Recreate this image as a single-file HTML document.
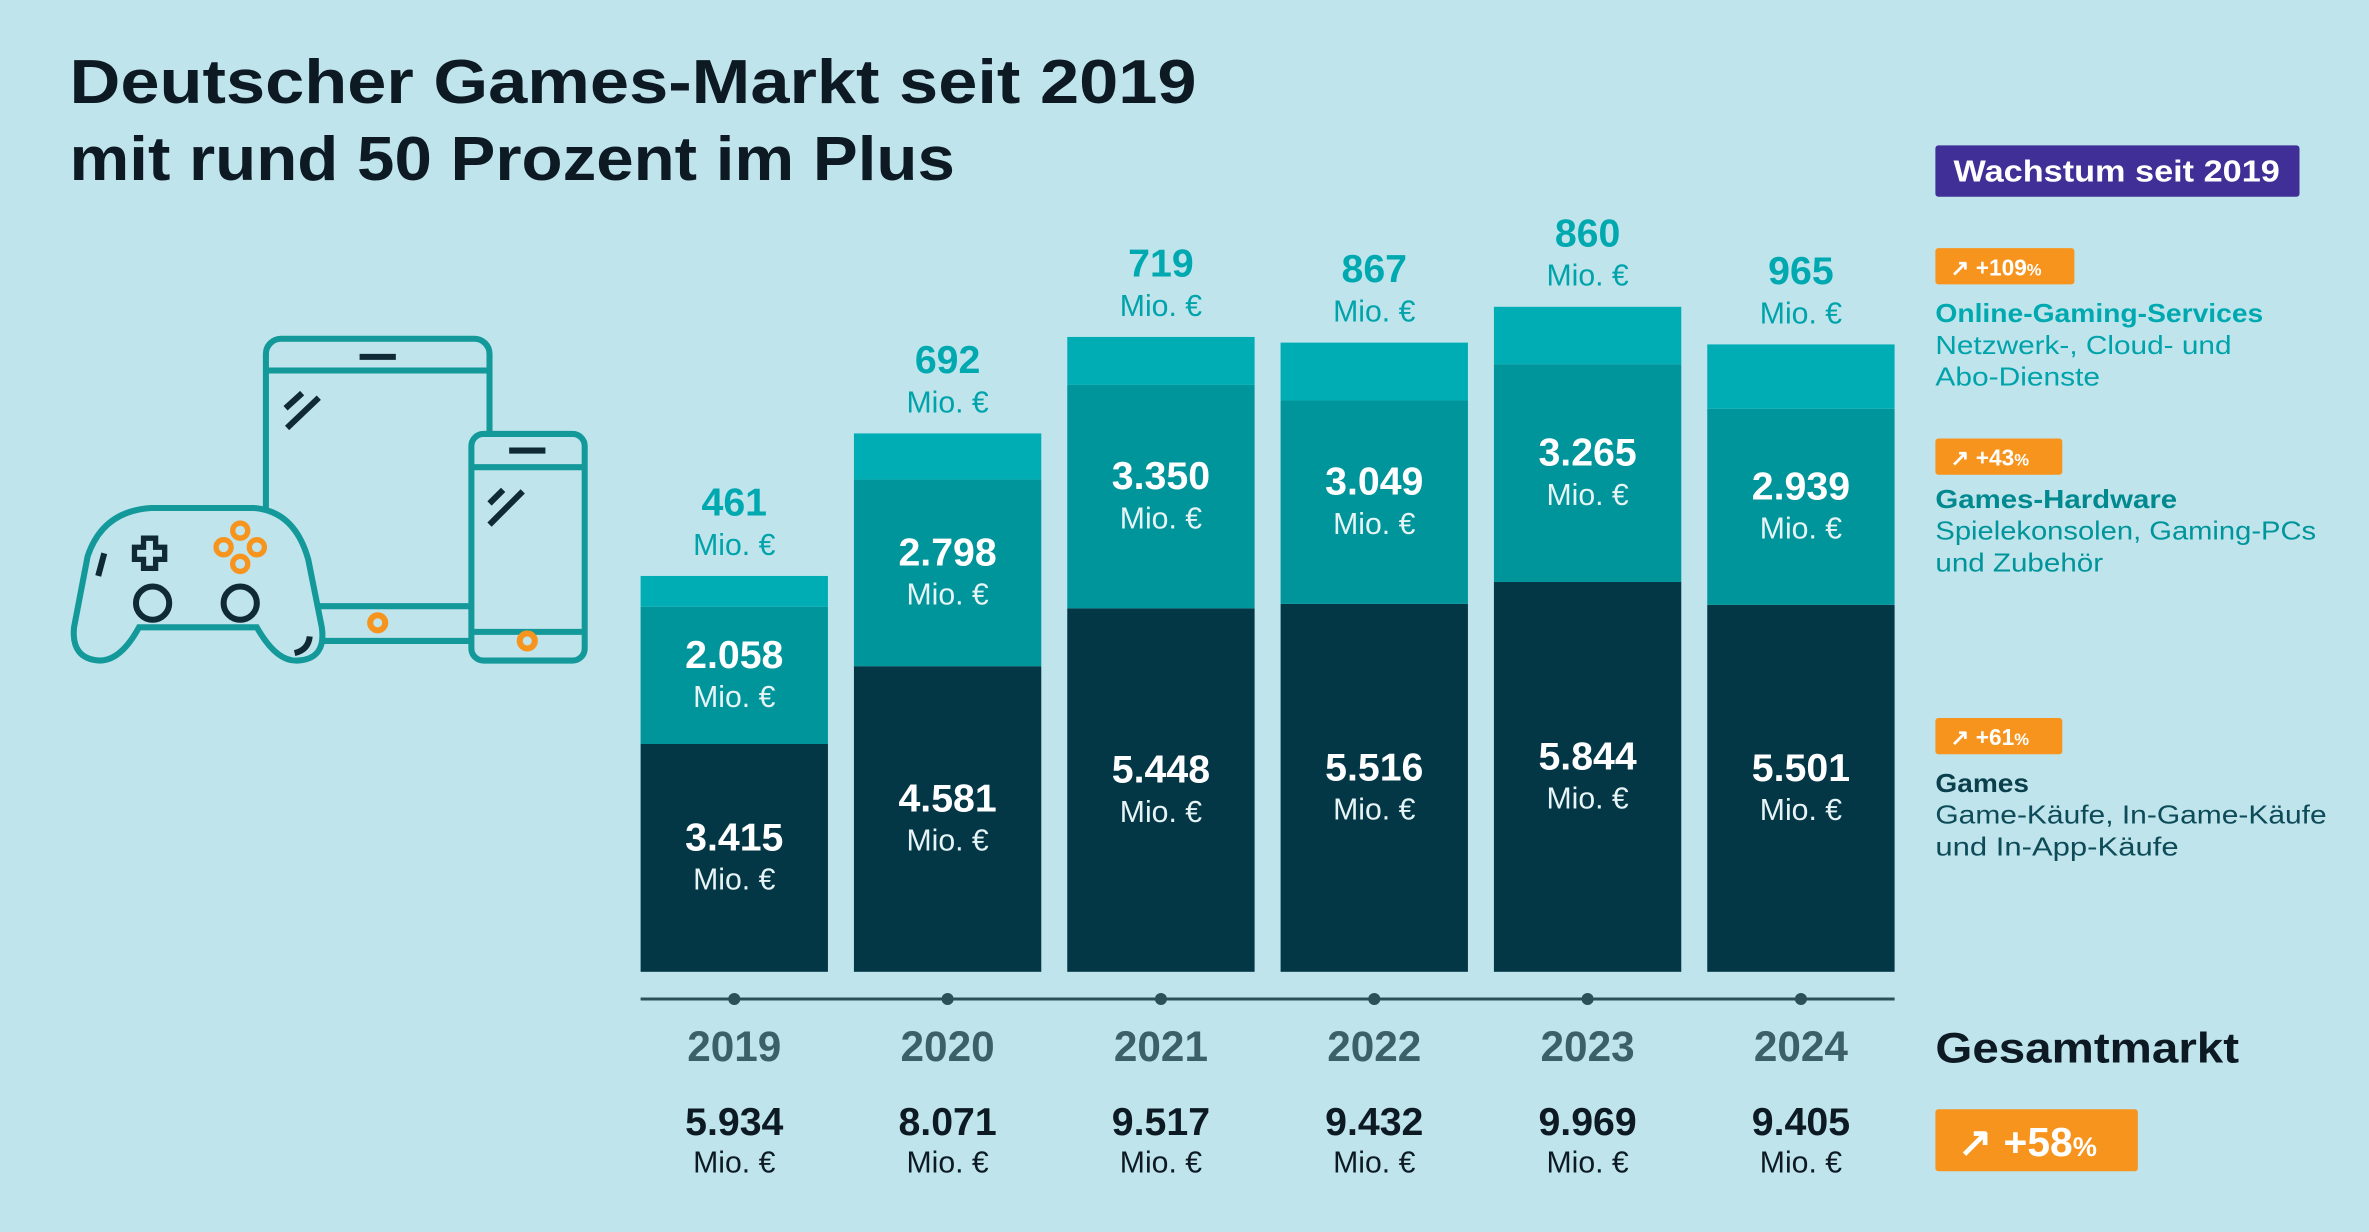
<!DOCTYPE html>
<html><head><meta charset="utf-8">
<style>
html,body{margin:0;padding:0;background:#bfe4ec;}
svg{display:block;font-family:"Liberation Sans",sans-serif;}
</style></head>
<body>
<svg id="chart" width="2369" height="1232" viewBox="0 0 1568 815" xmlns="http://www.w3.org/2000/svg">
<rect x="0" y="0" width="1568" height="815" fill="#bfe4ec"/>
<g fill="#0d1a24" font-weight="bold" font-size="41">
<text x="46" y="68" textLength="746" lengthAdjust="spacingAndGlyphs">Deutscher Games-Markt seit 2019</text>
<text x="46" y="119" textLength="586" lengthAdjust="spacingAndGlyphs">mit rund 50 Prozent im Plus</text>
</g>
<g fill="none" stroke="#13999a" stroke-width="4">
<rect x="176" y="224" width="148" height="200" rx="10"/>
<line x1="176" y1="245" x2="324" y2="245"/>
<line x1="176" y1="401" x2="324" y2="401"/>
<line x1="238" y1="236" x2="262" y2="236" stroke="#0f2a35"/>
<line x1="189" y1="270" x2="200" y2="260" stroke="#0f2a35"/>
<line x1="190" y1="283" x2="211" y2="263" stroke="#0f2a35"/>
<circle cx="250" cy="412" r="5" stroke="#f7941d"/>
<rect x="312" y="287" width="75" height="150" rx="8" fill="#bfe4ec"/>
<line x1="312" y1="309" x2="387" y2="309"/>
<line x1="312" y1="418" x2="387" y2="418"/>
<line x1="337" y1="298" x2="361" y2="298" stroke="#0f2a35"/>
<line x1="324" y1="333" x2="333" y2="324" stroke="#0f2a35"/>
<line x1="324" y1="347" x2="346" y2="325" stroke="#0f2a35"/>
<circle cx="349" cy="424" r="5" stroke="#f7941d"/>
<path d="M 100 336 L 168 336 Q 195 338 204 370 L 213 415 Q 216 436 197 437 Q 183 438 170 415 L 92 415 Q 80 437 66 437 Q 47 436 49 415 L 58 368 Q 68 338 100 336 Z" fill="#bfe4ec"/>
<path d="M 95 356 h8 v6 h6 v8 h-6 v6 h-8 v-6 h-6 v-8 h6 Z" stroke="#0f2a35" stroke-width="3.5"/>
<circle cx="101" cy="399" r="11" stroke="#0f2a35"/>
<circle cx="159" cy="399" r="11" stroke="#0f2a35"/>
<line x1="65" y1="381" x2="69" y2="366" stroke="#0f2a35"/>
<path d="M 195 432 Q 204 430 205 421" stroke="#0f2a35"/>
<g stroke="#f7941d" stroke-width="3.5">
<circle cx="159" cy="351" r="5"/><circle cx="159" cy="373" r="5"/><circle cx="148" cy="362" r="5"/><circle cx="170" cy="362" r="5"/>
</g>
</g>
<g id="bars"></g>
<line x1="424" y1="661" x2="1254" y2="661" stroke="#2c4f58" stroke-width="2"/>
<g id="axis"></g>
<g>
<rect x="1281" y="96" width="241" height="34" rx="2" fill="#3f2f96"/>
<text x="1293" y="120" fill="#fff" font-weight="bold" font-size="20" textLength="216" lengthAdjust="spacingAndGlyphs">Wachstum seit 2019</text>
<rect x="1281" y="164" width="92" height="24" rx="2" fill="#f7941d"/>
<text x="1291" y="182" fill="#fff" font-weight="bold" font-size="15">↗ +109<tspan font-size="11">%</tspan></text>
<text x="1281" y="213" fill="#00a9b0" font-weight="bold" font-size="17" textLength="217" lengthAdjust="spacingAndGlyphs">Online-Gaming-Services</text>
<text x="1281" y="234" fill="#00a3aa" font-size="17" textLength="196" lengthAdjust="spacingAndGlyphs">Netzwerk-, Cloud- und</text>
<text x="1281" y="255" fill="#00a3aa" font-size="17" textLength="109" lengthAdjust="spacingAndGlyphs">Abo-Dienste</text>
<rect x="1281" y="290" width="84" height="24" rx="2" fill="#f7941d"/>
<text x="1291" y="308" fill="#fff" font-weight="bold" font-size="15">↗ +43<tspan font-size="11">%</tspan></text>
<text x="1281" y="336" fill="#00898f" font-weight="bold" font-size="17" textLength="160" lengthAdjust="spacingAndGlyphs">Games-Hardware</text>
<text x="1281" y="357" fill="#00959a" font-size="17" textLength="252" lengthAdjust="spacingAndGlyphs">Spielekonsolen, Gaming-PCs</text>
<text x="1281" y="378" fill="#00959a" font-size="17" textLength="111" lengthAdjust="spacingAndGlyphs">und Zubehör</text>
<rect x="1281" y="475" width="84" height="24" rx="2" fill="#f7941d"/>
<text x="1291" y="493" fill="#fff" font-weight="bold" font-size="15">↗ +61<tspan font-size="11">%</tspan></text>
<text x="1281" y="524" fill="#0a3f4c" font-weight="bold" font-size="17" textLength="62" lengthAdjust="spacingAndGlyphs">Games</text>
<text x="1281" y="545" fill="#0d4b58" font-size="17" textLength="259" lengthAdjust="spacingAndGlyphs">Game-Käufe, In-Game-Käufe</text>
<text x="1281" y="566" fill="#0d4b58" font-size="17" textLength="161" lengthAdjust="spacingAndGlyphs">und In-App-Käufe</text>
<text x="1281" y="703" fill="#0d1a24" font-weight="bold" font-size="28" textLength="201" lengthAdjust="spacingAndGlyphs">Gesamtmarkt</text>
<rect x="1281" y="734" width="134" height="41" rx="2" fill="#f7941d"/>
<text x="1296" y="765" fill="#fff" font-weight="bold" font-size="27">↗ +58<tspan font-size="18">%</tspan></text>
</g>
<script>
const years = ["2019","2020","2021","2022","2023","2024"];
const games = [3415,4581,5448,5516,5844,5501];
const hardware = [2058,2798,3350,3049,3265,2939];
const online = [461,692,719,867,860,965];
const totals = [5934,8071,9517,9432,9969,9405];
const NS="http://www.w3.org/2000/svg";
const baseY=643, k=262/5934, x0=424, pitch=141.2, bw=124;
const xPos=i=>x0+i*pitch;
const yScale=v=>v*k;
const fmt=v=>{const s=String(v);return s.length>3?s.slice(0,s.length-3)+"."+s.slice(-3):s;};
const bars=document.getElementById("bars"), axis=document.getElementById("axis");
function mk(tag,attrs,parent,txt){const e=document.createElementNS(NS,tag);for(const a in attrs)e.setAttribute(a,attrs[a]);if(txt!==undefined)e.textContent=txt;parent.appendChild(e);return e;}
years.forEach((yr,i)=>{
  const x=xPos(i), cx=x+bw/2;
  const hG=yScale(games[i]), hH=yScale(hardware[i]), hO=yScale(online[i]);
  const yG=baseY-hG, yH=yG-hH, yO=yH-hO;
  const rg=mk("rect",{x:x,y:yG,width:bw,height:hG,fill:"#043746"},bars);
  
  
  const rh=mk("rect",{x:x,y:yH,width:bw,height:hH,fill:"#00959a"},bars);
  
  
  const ro=mk("rect",{x:x,y:yO,width:bw,height:hO,fill:"#00adb5"},bars);
  
  
  [[yG+hG/2,games[i],"games"],[yH+hH/2,hardware[i],"hardware"]].forEach(([c,v,n])=>{
    const t1=mk("text",{x:cx,y:c-5,"text-anchor":"middle",fill:"#fff","font-weight":"bold","font-size":26},bars,fmt(v));
    
    
    const t2=mk("text",{x:cx,y:c+21,"text-anchor":"middle",fill:"#e6f4f6","font-size":20},bars,"Mio. €");
    
    
  });
  const t3=mk("text",{x:cx,y:yO-40,"text-anchor":"middle",fill:"#00a9b0","font-weight":"bold","font-size":26},bars,fmt(online[i]));
  
  
  const t4=mk("text",{x:cx,y:yO-14,"text-anchor":"middle",fill:"#00a3aa","font-size":20},bars,"Mio. €");
  
  
  const d=mk("circle",{cx:cx,cy:661,r:4,fill:"#2c4f58"},axis);
  
  
  const ty=mk("text",{x:cx,y:702,"text-anchor":"middle",fill:"#3d5f68","font-weight":"bold","font-size":28},axis,yr);
  
  
  const tt=mk("text",{x:cx,y:751,"text-anchor":"middle",fill:"#0d1a24","font-weight":"bold","font-size":26},axis,fmt(totals[i]));
  
  
  const tu=mk("text",{x:cx,y:776,"text-anchor":"middle",fill:"#0d1a24","font-size":20},axis,"Mio. €");
  
  
});
</script>
</svg>
</body></html>
